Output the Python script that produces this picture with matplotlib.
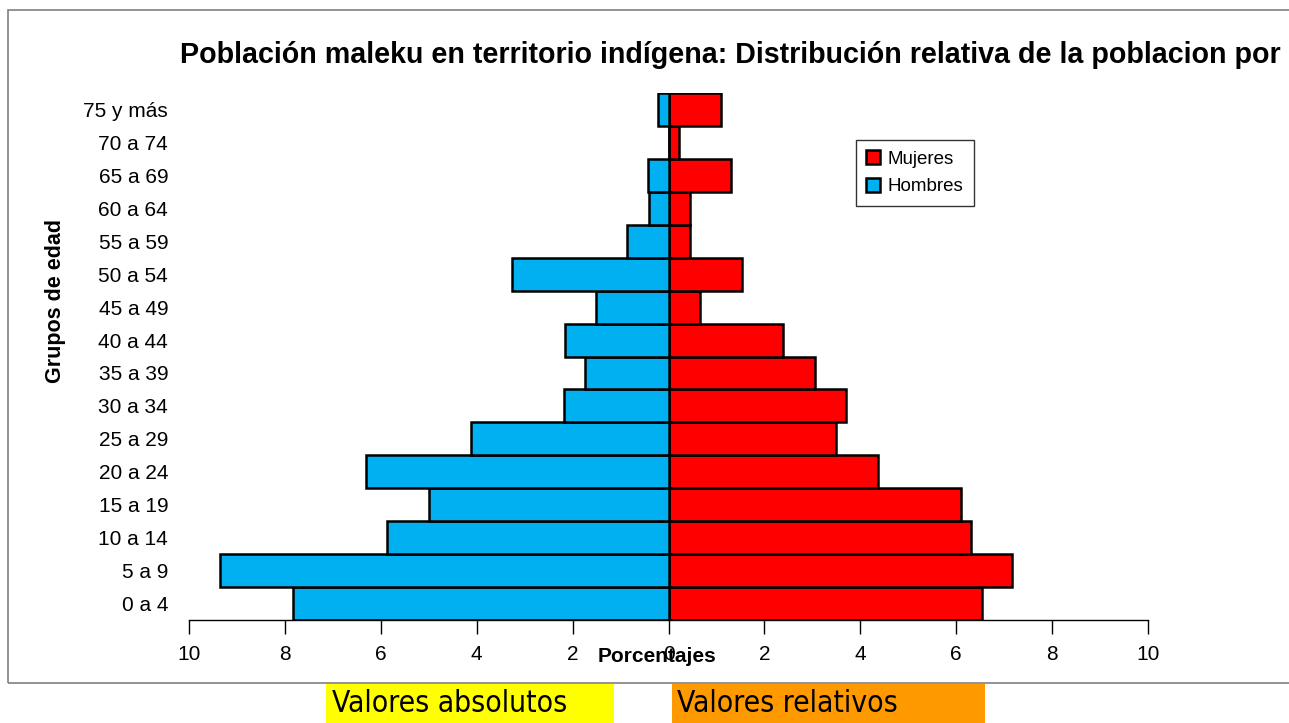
import matplotlib
matplotlib.use("Agg")
import matplotlib.pyplot as plt
from matplotlib.patches import Rectangle
import numpy as np

categories = ["0 a 4", "5 a 9", "10 a 14", "15 a 19", "20 a 24", "25 a 29",
              "30 a 34", "35 a 39", "40 a 44", "45 a 49", "50 a 54", "55 a 59",
              "60 a 64", "65 a 69", "70 a 74", "75 y más"]
hombres = [7.83, 9.35, 5.87, 5.00, 6.30, 4.12, 2.17, 1.74, 2.16, 1.51, 3.26,
           0.86, 0.41, 0.42, 0.0, 0.21]
mujeres = [6.53, 7.17, 6.31, 6.10, 4.36, 3.49, 3.71, 3.05, 2.38, 0.65, 1.53,
           0.44, 0.44, 1.31, 0.21, 1.09]
xticks = [-10, -8, -6, -4, -2, 0, 2, 4, 6, 8, 10]
xticklabels = ["10", "8", "6", "4", "2", "0", "2", "4", "6", "8", "10"]

W, H = 1289, 723
fig = plt.figure(figsize=(W / 100, H / 100), dpi=100)
plt.rcParams['font.family'] = ['Liberation Sans', 'DejaVu Sans']

# outer frame
fig.patches.append(Rectangle((7.5 / W, 1 - 683 / H), 1.2, (683 - 9.5) / H,
                             transform=fig.transFigure, fill=False,
                             edgecolor='#808080', linewidth=1.2))

ax = fig.add_axes([189 / W, 1 - 620 / H, (1148 - 189) / W, (620 - 93) / H])
y = np.arange(len(categories))
ax.barh(y, mujeres, height=1.0, color='#FF0000', edgecolor='black',
        linewidth=1.8, label='Mujeres', zorder=2)
ax.barh(y, [-v for v in hombres], height=1.0, color='#00B0F0',
        edgecolor='black', linewidth=1.8, label='Hombres', zorder=2)

ax.set_xlim(-10, 10)
ax.set_ylim(-0.5, len(categories) - 0.5)
ax.set_xticks(xticks)
ax.set_xticklabels(xticklabels, fontsize=15)
ax.set_yticks(y)
ax.set_yticklabels(categories, fontsize=15)
ax.tick_params(axis='y', length=0, pad=15)
ax.tick_params(axis='x', length=10, width=1, direction='out', pad=8)
for s in ['top', 'right', 'left']:
    ax.spines[s].set_visible(False)
ax.spines['bottom'].set_linewidth(1)

leg = ax.legend(loc='upper left', bbox_to_anchor=((856 - 189) / (1148 - 189), 1 - (140 - 93) / (620 - 93)),
                fontsize=13.5, frameon=True, fancybox=False, edgecolor='black',
                handlelength=0.75, handleheight=0.75, handletextpad=0.4,
                borderpad=0.55, labelspacing=0.55, borderaxespad=0)
leg.get_frame().set_linewidth(1)

fig.text(180 / W, 1 - 55 / H,
         "Población maleku en territorio indígena: Distribución relativa de la poblacion por",
         fontsize=20.6, fontweight='bold', ha='left', va='center')
fig.text(657 / W, 1 - 657 / H, "Porcentajes", fontsize=15, fontweight='bold',
         ha='center', va='center')
fig.text(55 / W, 1 - 301 / H, "Grupos de edad", fontsize=15.5, fontweight='bold',
         ha='center', va='center', rotation=90)

# bottom labels
fig.patches.append(Rectangle((326 / W, 0), (614 - 326) / W, (723 - 684) / H,
                             transform=fig.transFigure, facecolor='#FFFF00',
                             edgecolor='none'))
fig.patches.append(Rectangle((672 / W, 0), (985 - 672) / W, (723 - 684) / H,
                             transform=fig.transFigure, facecolor='#FF9900',
                             edgecolor='none'))
fig.text(332 / W, 1 - 712 / H, "Valores absolutos", fontsize=21.5,
         family='DejaVu Sans', fontstretch='condensed', ha='left', va='baseline')
fig.text(677 / W, 1 - 712 / H, "Valores relativos", fontsize=21.5,
         family='DejaVu Sans', fontstretch='condensed', ha='left', va='baseline')

fig.savefig("out.png", dpi=100)
